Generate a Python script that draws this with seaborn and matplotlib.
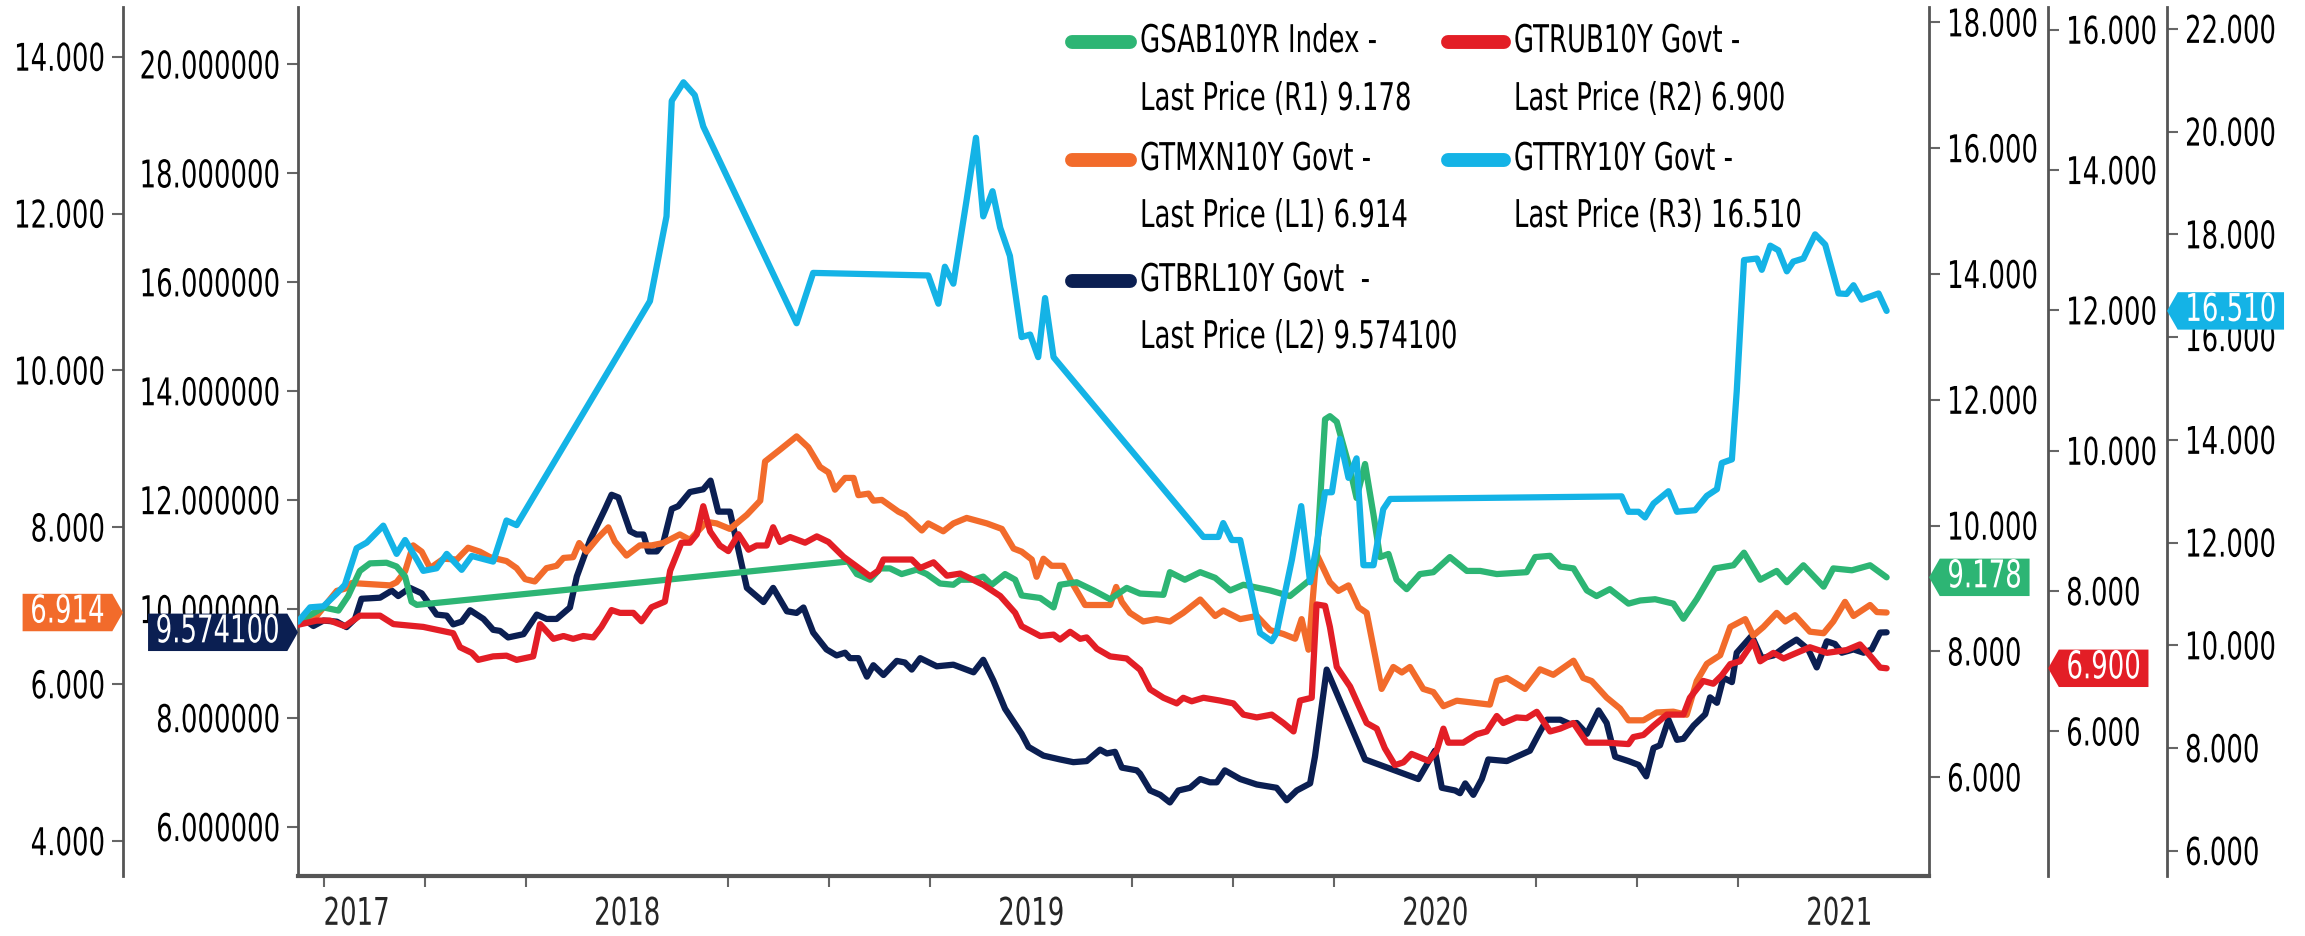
import matplotlib
matplotlib.use("Agg")
import matplotlib.pyplot as plt
import matplotlib.transforms as mtransforms
from matplotlib.backends.backend_agg import RendererAgg
from matplotlib.path import Path
from matplotlib.lines import Line2D
from matplotlib.patheffects import AbstractPathEffect
from matplotlib.ticker import FixedLocator, FormatStrFormatter
import seaborn as sns

# --- data (x = decimal year) ---
sab_x = [2017.185, 2017.248, 2017.285, 2017.309, 2017.338, 2017.363, 2017.404, 2017.429, 2017.450, 2017.466,
         2017.479, 2018.547, 2018.568, 2018.601, 2018.626, 2018.650, 2018.679, 2018.716, 2018.741, 2018.774,
         2018.807, 2018.824, 2018.857, 2018.881, 2018.902, 2018.935, 2018.960, 2018.976, 2019.022, 2019.055,
         2019.071, 2019.112, 2019.154, 2019.195, 2019.236, 2019.269, 2019.327, 2019.343, 2019.380, 2019.418,
         2019.455, 2019.492, 2019.525, 2019.591, 2019.640, 2019.690, 2019.706, 2019.727, 2019.739, 2019.756,
         2019.789, 2019.805, 2019.826, 2019.847, 2019.863, 2019.884, 2019.904, 2019.929, 2019.962, 2019.995,
         2020.036, 2020.078, 2020.111, 2020.152, 2020.226, 2020.247, 2020.284, 2020.309, 2020.342, 2020.375,
         2020.399, 2020.432, 2020.478, 2020.507, 2020.544, 2020.589, 2020.614, 2020.647, 2020.692, 2020.738,
         2020.764, 2020.804, 2020.845, 2020.870, 2020.911, 2020.961, 2020.985, 2021.031, 2021.076, 2021.117]
sab_y = [8.47, 8.70, 8.65, 8.88, 9.28, 9.40, 9.41, 9.35, 9.19, 8.79,
         8.74, 9.43, 9.23, 9.14, 9.32, 9.32, 9.23, 9.30, 9.23, 9.08,
         9.06, 9.14, 9.14, 9.19, 9.06, 9.23, 9.14, 8.89, 8.85, 8.70,
         9.06, 9.10, 8.97, 8.83, 9.01, 8.92, 8.90, 9.26, 9.14, 9.26,
         9.17, 8.97, 9.06, 8.97, 8.88, 9.14, 9.46, 11.69, 11.74, 11.65,
         10.89, 10.44, 10.98, 10.17, 9.50, 9.55, 9.14, 8.99, 9.23, 9.26,
         9.50, 9.28, 9.28, 9.23, 9.26, 9.50, 9.52, 9.35, 9.32, 8.97,
         8.88, 8.99, 8.76, 8.81, 8.83, 8.76, 8.52, 8.83, 9.32, 9.37,
         9.57, 9.14, 9.28, 9.10, 9.37, 9.03, 9.32, 9.29, 9.37, 9.178]

mxn_x = [2017.185, 2017.231, 2017.281, 2017.309, 2017.318, 2017.413, 2017.429, 2017.450, 2017.470, 2017.491,
         2017.512, 2017.545, 2017.578, 2017.606, 2017.635, 2017.660, 2017.701, 2017.726, 2017.747, 2017.771,
         2017.800, 2017.825, 2017.842, 2017.866, 2017.881, 2017.899, 2017.928, 2017.953, 2017.969, 2017.998,
         2018.031, 2018.060, 2018.089, 2018.130, 2018.155, 2018.196, 2018.221, 2018.254, 2018.296, 2018.329,
         2018.341, 2018.378, 2018.419, 2018.448, 2018.477, 2018.498, 2018.514, 2018.539, 2018.560, 2018.572,
         2018.597, 2018.609, 2018.630, 2018.671, 2018.687, 2018.729, 2018.745, 2018.782, 2018.807, 2018.840,
         2018.890, 2018.927, 2018.956, 2018.976, 2019.001, 2019.013, 2019.030, 2019.050, 2019.079, 2019.100,
         2019.133, 2019.195, 2019.210, 2019.224, 2019.244, 2019.277, 2019.310, 2019.343, 2019.376, 2019.418,
         2019.455, 2019.475, 2019.517, 2019.558, 2019.591, 2019.624, 2019.653, 2019.669, 2019.686, 2019.706,
         2019.739, 2019.760, 2019.785, 2019.810, 2019.830, 2019.867, 2019.896, 2019.917, 2019.937, 2019.970,
         2019.995, 2020.020, 2020.053, 2020.135, 2020.152, 2020.177, 2020.222, 2020.259, 2020.292, 2020.342,
         2020.366, 2020.387, 2020.424, 2020.457, 2020.478, 2020.515, 2020.548, 2020.589, 2020.622, 2020.647,
         2020.672, 2020.705, 2020.730, 2020.767, 2020.787, 2020.812, 2020.845, 2020.866, 2020.890, 2020.927,
         2020.961, 2020.985, 2021.014, 2021.035, 2021.076, 2021.093, 2021.117]
mxn_y = [6.78, 6.87, 7.19, 7.23, 7.29, 7.26, 7.30, 7.44, 7.77, 7.69,
         7.48, 7.60, 7.59, 7.74, 7.69, 7.62, 7.57, 7.48, 7.34, 7.31,
         7.48, 7.51, 7.61, 7.62, 7.80, 7.69, 7.87, 8.00, 7.82, 7.64,
         7.77, 7.77, 7.80, 7.91, 7.84, 8.07, 8.05, 7.98, 8.16, 8.34,
         8.84, 8.99, 9.16, 9.02, 8.77, 8.70, 8.48, 8.63, 8.63, 8.41,
         8.43, 8.34, 8.35, 8.20, 8.16, 7.96, 8.05, 7.95, 8.05, 8.12,
         8.05, 7.98, 7.73, 7.69, 7.59, 7.37, 7.60, 7.51, 7.51, 7.30,
         7.01, 7.01, 7.24, 7.05, 6.91, 6.80, 6.83, 6.80, 6.91, 7.08,
         6.87, 6.94, 6.83, 6.87, 6.69, 6.64, 6.58, 6.83, 6.44, 7.66,
         7.30, 7.19, 7.26, 6.98, 6.91, 5.94, 6.22, 6.15, 6.22, 5.94,
         5.90, 5.72, 5.79, 5.74, 6.04, 6.08, 5.94, 6.19, 6.12, 6.30,
         6.08, 6.04, 5.83, 5.69, 5.54, 5.54, 5.64, 5.65, 5.61, 6.04,
         6.26, 6.37, 6.73, 6.83, 6.62, 6.73, 6.91, 6.80, 6.88, 6.67,
         6.65, 6.80, 7.05, 6.87, 7.01, 6.92, 6.914]

brl_x = [2017.185, 2017.198, 2017.223, 2017.248, 2017.281, 2017.305, 2017.326, 2017.342, 2017.388, 2017.417,
         2017.433, 2017.462, 2017.491, 2017.528, 2017.553, 2017.569, 2017.590, 2017.611, 2017.644, 2017.668,
         2017.685, 2017.705, 2017.743, 2017.776, 2017.800, 2017.825, 2017.858, 2017.875, 2017.908, 2017.945,
         2017.961, 2017.978, 2018.007, 2018.023, 2018.040, 2018.052, 2018.073, 2018.089, 2018.110, 2018.126,
         2018.155, 2018.188, 2018.206, 2018.225, 2018.254, 2018.296, 2018.337, 2018.361, 2018.395, 2018.419,
         2018.436, 2018.460, 2018.493, 2018.518, 2018.539, 2018.551, 2018.572, 2018.593, 2018.609, 2018.634,
         2018.667, 2018.687, 2018.704, 2018.725, 2018.766, 2018.807, 2018.857, 2018.881, 2018.906, 2018.935,
         2018.976, 2018.993, 2019.030, 2019.071, 2019.104, 2019.137, 2019.170, 2019.187, 2019.207, 2019.224,
         2019.261, 2019.269, 2019.294, 2019.319, 2019.343, 2019.364, 2019.393, 2019.418, 2019.442, 2019.459,
         2019.479, 2019.517, 2019.558, 2019.607, 2019.632, 2019.657, 2019.690, 2019.702, 2019.731, 2019.781,
         2019.826, 2019.958, 2019.999, 2020.016, 2020.049, 2020.061, 2020.074, 2020.094, 2020.115, 2020.131,
         2020.177, 2020.234, 2020.259, 2020.276, 2020.309, 2020.333, 2020.350, 2020.375, 2020.404, 2020.424,
         2020.445, 2020.478, 2020.503, 2020.522, 2020.540, 2020.556, 2020.577, 2020.598, 2020.614, 2020.639,
         2020.668, 2020.680, 2020.697, 2020.713, 2020.734, 2020.746, 2020.783, 2020.808, 2020.837, 2020.866,
         2020.894, 2020.923, 2020.944, 2020.969, 2020.989, 2021.006, 2021.035, 2021.060, 2021.080, 2021.101,
         2021.117]
brl_y = [9.75, 9.82, 9.69, 9.79, 9.77, 9.67, 9.82, 10.19, 10.21, 10.34,
         10.24, 10.39, 10.29, 9.90, 9.88, 9.72, 9.77, 9.98, 9.82, 9.62,
         9.60, 9.48, 9.54, 9.90, 9.82, 9.82, 10.03, 10.60, 11.27, 11.84,
         12.10, 12.05, 11.43, 11.37, 11.37, 11.06, 11.06, 11.22, 11.84, 11.89,
         12.15, 12.20, 12.36, 11.79, 11.79, 10.39, 10.13, 10.39, 9.96, 9.93,
         10.03, 9.57, 9.26, 9.15, 9.20, 9.10, 9.10, 8.76, 8.97, 8.79,
         9.05, 9.02, 8.89, 9.10, 8.95, 8.98, 8.84, 9.07, 8.69, 8.17,
         7.71, 7.47, 7.31, 7.24, 7.19, 7.21, 7.42, 7.35, 7.38, 7.09,
         7.04, 6.98, 6.67, 6.59, 6.45, 6.67, 6.72, 6.88, 6.82, 6.82,
         7.04, 6.88, 6.78, 6.72, 6.49, 6.67, 6.80, 7.29, 8.89, 8.02,
         7.24, 6.88, 7.40, 6.72, 6.67, 6.62, 6.80, 6.59, 6.88, 7.24,
         7.21, 7.40, 7.75, 7.97, 7.97, 7.89, 7.91, 7.71, 8.14, 7.91,
         7.29, 7.21, 7.14, 6.93, 7.45, 7.50, 7.97, 7.60, 7.62, 7.86,
         8.07, 8.38, 8.28, 8.74, 8.66, 9.20, 9.51, 9.10, 9.15, 9.31,
         9.44, 9.26, 8.93, 9.41, 9.36, 9.20, 9.26, 9.20, 9.26, 9.57,
         9.5741]

rub_x = [2017.185, 2017.231, 2017.264, 2017.301, 2017.338, 2017.388, 2017.421, 2017.495, 2017.545, 2017.569,
         2017.586, 2017.615, 2017.631, 2017.668, 2017.701, 2017.726, 2017.767, 2017.784, 2017.817, 2017.842,
         2017.866, 2017.891, 2017.916, 2017.936, 2017.961, 2017.982, 2018.015, 2018.035, 2018.060, 2018.093,
         2018.106, 2018.134, 2018.155, 2018.172, 2018.188, 2018.205, 2018.229, 2018.250, 2018.275, 2018.300,
         2018.320, 2018.345, 2018.361, 2018.378, 2018.403, 2018.440, 2018.469, 2018.498, 2018.535, 2018.568,
         2018.601, 2018.621, 2018.634, 2018.667, 2018.704, 2018.725, 2018.758, 2018.791, 2018.824, 2018.881,
         2018.923, 2018.960, 2018.976, 2019.022, 2019.055, 2019.071, 2019.096, 2019.121, 2019.137, 2019.162,
         2019.195, 2019.236, 2019.244, 2019.269, 2019.294, 2019.327, 2019.360, 2019.376, 2019.397, 2019.426,
         2019.467, 2019.500, 2019.525, 2019.558, 2019.595, 2019.624, 2019.649, 2019.665, 2019.694, 2019.706,
         2019.727, 2019.739, 2019.756, 2019.789, 2019.814, 2019.830, 2019.855, 2019.875, 2019.900, 2019.921,
         2019.941, 2019.966, 2019.983, 2020.003, 2020.020, 2020.032, 2020.069, 2020.102, 2020.127, 2020.152,
         2020.168, 2020.201, 2020.226, 2020.251, 2020.284, 2020.309, 2020.342, 2020.375, 2020.424, 2020.478,
         2020.490, 2020.515, 2020.540, 2020.573, 2020.614, 2020.630, 2020.663, 2020.688, 2020.709, 2020.730,
         2020.754, 2020.787, 2020.804, 2020.837, 2020.862, 2020.886, 2020.927, 2020.969, 2021.018, 2021.051,
         2021.076, 2021.101, 2021.117]
rub_y = [7.52, 7.58, 7.58, 7.50, 7.65, 7.65, 7.53, 7.49, 7.43, 7.40,
         7.20, 7.12, 7.02, 7.07, 7.08, 7.02, 7.07, 7.53, 7.32, 7.36,
         7.32, 7.36, 7.34, 7.49, 7.73, 7.69, 7.69, 7.57, 7.77, 7.85,
         8.29, 8.69, 8.69, 8.81, 9.21, 8.85, 8.65, 8.57, 8.81, 8.59,
         8.65, 8.65, 8.91, 8.70, 8.77, 8.69, 8.78, 8.70, 8.49, 8.35,
         8.21, 8.29, 8.45, 8.45, 8.45, 8.33, 8.41, 8.22, 8.25, 8.09,
         7.93, 7.69, 7.50, 7.36, 7.38, 7.31, 7.42, 7.32, 7.34, 7.18,
         7.07, 7.04, 7.00, 6.88, 6.60, 6.48, 6.40, 6.48, 6.43, 6.48,
         6.44, 6.40, 6.24, 6.20, 6.24, 6.12, 6.00, 6.44, 6.48, 7.81,
         7.79, 7.49, 6.92, 6.64, 6.32, 6.12, 6.04, 5.76, 5.52, 5.56,
         5.68, 5.62, 5.58, 5.72, 6.04, 5.84, 5.84, 5.96, 6.00, 6.22,
         6.12, 6.20, 6.19, 6.28, 6.00, 6.04, 6.12, 5.84, 5.84, 5.82,
         5.92, 5.95, 6.08, 6.24, 6.24, 6.48, 6.72, 6.68, 6.80, 6.96,
         7.00, 7.28, 7.00, 7.12, 7.04, 7.10, 7.20, 7.12, 7.16, 7.24,
         7.08, 6.91, 6.90]

tur_x = [2017.185, 2017.215, 2017.248, 2017.281, 2017.301, 2017.330, 2017.355, 2017.396, 2017.429, 2017.450,
         2017.479, 2017.495, 2017.528, 2017.553, 2017.590, 2017.615, 2017.668, 2017.701, 2017.726, 2018.056,
         2018.097, 2018.110, 2018.139, 2018.167, 2018.188, 2018.419, 2018.460, 2018.745, 2018.770, 2018.786,
         2018.807, 2018.840, 2018.863, 2018.881, 2018.904, 2018.923, 2018.947, 2018.976, 2018.997, 2019.017,
         2019.034, 2019.055, 2019.426, 2019.463, 2019.475, 2019.496, 2019.517, 2019.566, 2019.595, 2019.607,
         2019.645, 2019.668, 2019.690, 2019.706, 2019.727, 2019.744, 2019.764, 2019.785, 2019.805, 2019.822,
         2019.847, 2019.871, 2019.888, 2020.461, 2020.478, 2020.503, 2020.519, 2020.540, 2020.577, 2020.598,
         2020.643, 2020.672, 2020.697, 2020.709, 2020.734, 2020.746, 2020.764, 2020.796, 2020.808, 2020.829,
         2020.849, 2020.870, 2020.886, 2020.911, 2020.940, 2020.965, 2020.998, 2021.018, 2021.035, 2021.055,
         2021.097, 2021.117]
tur_y = [10.46, 10.74, 10.76, 11.01, 11.18, 11.89, 12.00, 12.33, 11.78, 12.05,
         11.67, 11.45, 11.50, 11.78, 11.47, 11.74, 11.63, 12.43, 12.34, 16.70,
         18.35, 20.60, 20.96, 20.71, 20.10, 16.27, 17.25, 17.20, 16.65, 17.37,
         17.04, 18.68, 19.88, 18.35, 18.84, 18.13, 17.58, 16.00, 16.05, 15.61,
         16.76, 15.61, 12.11, 12.11, 12.38, 12.05, 12.05, 10.24, 10.08, 10.24,
         11.67, 12.71, 11.23, 11.94, 12.98, 12.98, 14.02, 13.26, 13.64, 11.56,
         11.56, 12.65, 12.85, 12.90, 12.60, 12.60, 12.49, 12.76, 13.00, 12.60,
         12.63, 12.91, 13.04, 13.55, 13.62, 14.95, 17.50, 17.53, 17.31, 17.78,
         17.69, 17.28, 17.47, 17.53, 18.00, 17.80, 16.85, 16.84, 17.01, 16.73,
         16.85, 16.51]

quarter_ticks = [2017.25, 2017.5, 2017.75, 2018.0, 2018.25, 2018.5, 2018.75, 2019.0, 2019.25,
                 2019.5, 2019.75, 2020.0, 2020.25, 2020.5, 2020.75, 2021.0]
year_pos = [2017.33, 2018.0, 2019.0, 2020.0, 2021.0]
year_labels = ["2017", "2018", "2019", "2020", "2021"]

sns.set_style("white")
plt.rcParams["font.family"] = ["DejaVu Sans"]
FS = 27.5
SX = 0.68          # horizontal squeeze of all text, as in the reference
SPINE = "#555555"

# text in the reference is horizontally compressed: measure it narrower ...
_text_metrics = RendererAgg.get_text_width_height_descent


def _narrow_metrics(self, s, prop, ismath):
    w, h, d = _text_metrics(self, s, prop, ismath)
    return w * SX, h, d


RendererAgg.get_text_width_height_descent = _narrow_metrics


# ... and draw the glyphs narrower to match
class Squeeze(AbstractPathEffect):
    def __init__(self, sx=SX):
        super().__init__()
        self.sx = sx

    def draw_path(self, renderer, gc, tpath, affine, rgbFace=None):
        t = mtransforms.Affine2D().scale(self.sx, 1) + affine
        renderer.draw_path(gc, tpath, t, rgbFace)


NARROW = [Squeeze()]


def tag_shape(point_right):
    # Bloomberg style value tag: rectangle with a pointed side
    def box(x0, y0, width, height, mutation_size):
        pad = 0.2 * mutation_size
        tip = 0.28 * mutation_size
        h = 0.98 * mutation_size
        cy = y0 + height / 2
        left, right = x0 - pad, x0 + width + pad
        bot, top = cy - h / 2, cy + h / 2
        if point_right:
            verts = [(left, bot), (right, bot), (right + tip, cy), (right, top), (left, top), (left, bot)]
        else:
            verts = [(left - tip, cy), (left, bot), (right, bot), (right, top), (left, top), (left - tip, cy)]
        return Path(verts, closed=True)
    return box


fig = plt.figure(figsize=(23.05, 9.36), dpi=100)
ax = fig.add_axes([0.1293, 0.0641, 0.7076, 0.9281])
ax_l1 = ax.twinx()
ax_r1 = ax.twinx()
ax_r2 = ax.twinx()
ax_r3 = ax.twinx()

series = [
    # axis, x, y, colour, ylim, ticks, fmt, side, spine position, legend lines
    (ax, brl_x, brl_y, "#0B1F52", (5.10, 21.05), range(6, 21, 2), "%.6f", "left", 0.0,
     ("GTBRL10Y Govt  -", "Last Price (L2) %.6f")),
    (ax_l1, mxn_x, mxn_y, "#F26B2B", (3.555, 14.63), range(4, 15, 2), "%.3f", "left", -0.1073,
     ("GTMXN10Y Govt -", "Last Price (L1) %.3f")),
    (ax_r1, sab_x, sab_y, "#2DB574", (4.43, 18.24), range(6, 19, 2), "%.3f", "right", 1.0,
     ("GSAB10YR Index -", "Last Price (R1) %.3f")),
    (ax_r2, rub_x, rub_y, "#E31E26", (3.94, 16.32), range(6, 17, 2), "%.3f", "right", 1.073,
     ("GTRUB10Y Govt -", "Last Price (R2) %.3f")),
    (ax_r3, tur_x, tur_y, "#14B3E6", (5.51, 22.42), range(6, 23, 2), "%.3f", "right", 1.1459,
     ("GTTRY10Y Govt -", "Last Price (R3) %.3f")),
]

for axis, xs, ys, color, ylim, ticks, fmt, side, pos, _ in series:
    sns.lineplot(x=xs, y=ys, ax=axis, color=color, linewidth=4.5, estimator=None, sort=False)
    axis.set_ylim(*ylim)
    axis.set_xlim(2017.185, 2021.222)
    axis.set_ylabel("")
    for s in axis.spines.values():
        s.set_visible(False)
    sp = axis.spines[side]
    sp.set_visible(True)
    sp.set_position(("axes", pos))
    sp.set_color(SPINE)
    sp.set_linewidth(2)
    if side == "left":
        axis.yaxis.tick_left()
    else:
        axis.yaxis.tick_right()
    axis.yaxis.set_major_locator(FixedLocator(list(ticks)))
    axis.yaxis.set_major_formatter(FormatStrFormatter(fmt))
    axis.tick_params(axis="y", direction="out", length=8, width=1.5, color="#666666",
                     labelsize=FS, pad=5, labelcolor="black")
    for lab in axis.get_yticklabels():
        lab.set_path_effects(NARROW)

    # value tag at the last point
    trans = mtransforms.blended_transform_factory(ax.transAxes, axis.transData)
    off = 0.48 * FS
    axis.annotate(fmt % ys[-1], xy=(pos, ys[-1]), xycoords=trans,
                  xytext=(-off if side == "left" else off, 0), textcoords="offset points",
                  ha="right" if side == "left" else "left", va="center",
                  fontsize=FS, color="white", annotation_clip=False, zorder=10,
                  path_effects=NARROW,
                  bbox=dict(boxstyle=tag_shape(side == "left"), facecolor=color, edgecolor="none"))

# x axis
ax.spines["bottom"].set_visible(True)
ax.spines["bottom"].set_color(SPINE)
ax.spines["bottom"].set_linewidth(3)
ax.xaxis.set_minor_locator(FixedLocator(quarter_ticks))
ax.xaxis.set_major_locator(FixedLocator(year_pos))
ax.set_xticklabels(year_labels)
ax.tick_params(axis="x", which="minor", direction="out", length=8, width=1.5, color="#666666", bottom=True)
ax.tick_params(axis="x", which="major", length=0, labelsize=FS, pad=15, bottom=True)
for lab in ax.get_xticklabels():
    lab.set_path_effects(NARROW)
ax.set_xlabel("")

# legend, two columns, two text lines per entry
legend_cols = [(0.4651, 0.4902, 0.4946), (0.6282, 0.6525, 0.6568)]
legend_rows = [(0.9551, 0.8932), (0.8291, 0.7682), (0.6998, 0.6389)]
legend_slots = [(2, 0, 0), (1, 0, 1), (0, 0, 2), (3, 1, 0), (4, 1, 1)]
for idx, col, row in legend_slots:
    _, _, ys, color, _, _, fmt, _, _, (line1, line2) = series[idx]
    x0, x1, xt = legend_cols[col]
    y1, y2 = legend_rows[row]
    fig.add_artist(Line2D([x0, x1], [y1, y1], transform=fig.transFigure, color=color,
                          linewidth=10, solid_capstyle="round"))
    for yy, txt in ((y1, line1), (y2, line2 % ys[-1])):
        fig.text(xt, yy, txt, fontsize=FS, va="center", ha="left", color="black",
                 path_effects=NARROW)

fig.savefig("out.png", dpi=100)
